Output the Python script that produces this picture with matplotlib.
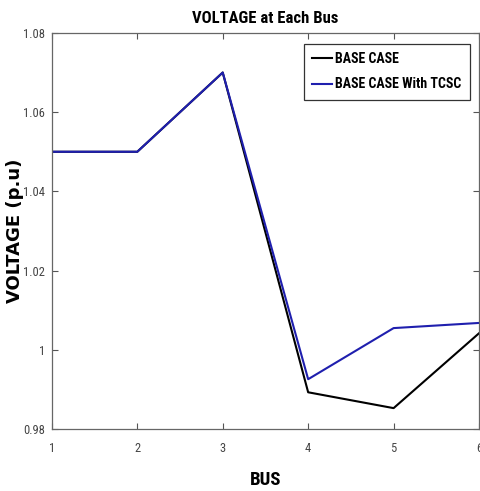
import matplotlib
matplotlib.use("Agg")
import matplotlib.pyplot as plt

plt.rcParams["font.family"] = ["Roboto Condensed", "Liberation Sans", "DejaVu Sans"]

BUS = [1, 2, 3, 4, 5, 6]
BASE_CASE = [1.05, 1.05, 1.07, 0.9893, 0.9853, 1.0042]
BASE_CASE_TCSC = [1.05, 1.05, 1.07, 0.9926, 1.0055, 1.0068]
Y_TICKS = [0.98, 1.0, 1.02, 1.04, 1.06, 1.08]
Y_TICK_LABELS = ["0.98", "1", "1.02", "1.04", "1.06", "1.08"]

fig = plt.figure(figsize=(4.8, 4.91), dpi=100)
ax = fig.add_axes([0.108, 0.126, 0.89, 0.807])

ax.plot(BUS, BASE_CASE, color="black", linewidth=1.5, label="BASE CASE")
ax.plot(BUS, BASE_CASE_TCSC, color="#1f1fae", linewidth=1.5, label="BASE CASE With TCSC")

ax.set_xlim(1, 6)
ax.set_ylim(0.98, 1.08)
ax.set_xticks(BUS)
ax.set_yticks(Y_TICKS)
ax.set_yticklabels(Y_TICK_LABELS)

ax.tick_params(direction="in", length=4, color="#555555", labelsize=9,
               labelcolor="#444444", top=True, right=True)
ax.tick_params(axis="x", pad=9)
ax.tick_params(axis="y", pad=5)
for spine in ax.spines.values():
    spine.set_color("#666666")
    spine.set_linewidth(0.9)

ax.set_title("VOLTAGE at Each Bus", fontsize=12, fontweight="bold", pad=7)
ax.set_xlabel("BUS", fontsize=13.5, fontweight="bold", labelpad=12)
ax.set_ylabel("VOLTAGE (p.u)", fontsize=13, fontweight="bold",
              family="DejaVu Sans")
ax.yaxis.set_label_coords(-0.066, 0.5)

leg = ax.legend(loc="upper right", prop={"size": 10, "weight": "bold"},
                frameon=True, fancybox=False, handlelength=1.45,
                handletextpad=0.25, borderpad=0.6, labelspacing=0.8,
                borderaxespad=0, bbox_to_anchor=(0.979, 0.972))
leg.get_frame().set_edgecolor("black")
leg.get_frame().set_linewidth(0.9)

fig.savefig("out.png", dpi=100)
